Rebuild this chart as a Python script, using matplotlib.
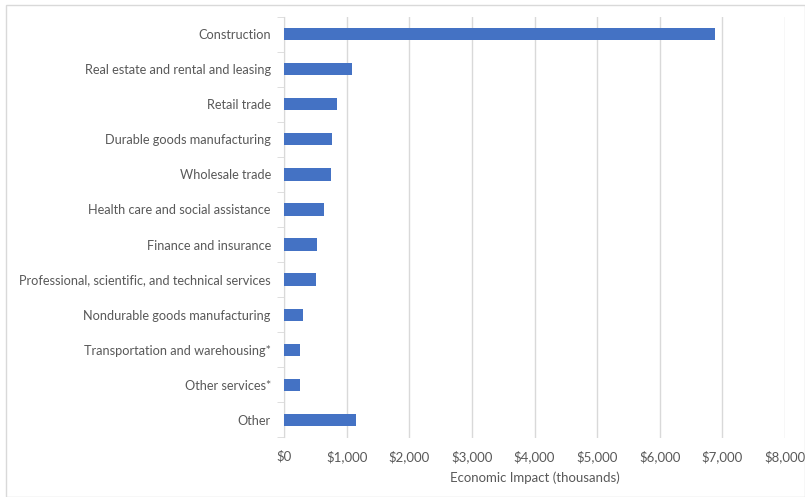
import matplotlib.pyplot as plt
from matplotlib.patches import Rectangle
from matplotlib.ticker import FuncFormatter, MultipleLocator

plt.rcParams['font.family'] = ['Lato', 'DejaVu Sans']

industries = [
    "Construction",
    "Real estate and rental and leasing",
    "Retail trade",
    "Durable goods manufacturing",
    "Wholesale trade",
    "Health care and social assistance",
    "Finance and insurance",
    "Professional, scientific, and technical services",
    "Nondurable goods manufacturing",
    "Transportation and warehousing*",
    "Other services*",
    "Other",
]
impact_thousands = [6890, 1090, 850, 770, 745, 638, 521, 510, 303, 260, 255, 1143]

bar_color = "#4472c4"
text_color = "#595959"
grid_color = "#d9d9d9"

fig = plt.figure(figsize=(8.05, 4.97), dpi=100)
ax = fig.add_axes([284 / 805, 1 - 437.5 / 497, (785 - 284) / 805, (437.5 - 16.5) / 497])

ypos = list(range(len(industries)))
ax.barh(ypos, impact_thousands, height=0.35, color=bar_color, zorder=3)

ax.set_xlim(0, 8000)
ax.set_ylim(len(industries) - 0.5, -0.5)
ax.xaxis.set_major_locator(MultipleLocator(1000))
ax.xaxis.set_major_formatter(FuncFormatter(lambda v, _: f"${v:,.0f}"))
ax.grid(axis="x", color=grid_color, linewidth=1, zorder=0)

ax.set_yticks(ypos)
ax.set_yticklabels(industries)
# short category separators on the left of the axis
ax.set_yticks([i + 0.5 for i in range(-1, len(industries))], minor=True)
ax.tick_params(axis="y", which="major", length=0, pad=9.5, labelsize=9.2, labelcolor=text_color)
ax.tick_params(axis="y", which="minor", length=5, color=grid_color)
ax.tick_params(axis="x", length=0, pad=9, labelsize=9.5, labelcolor=text_color)

for side in ("top", "right", "bottom"):
    ax.spines[side].set_visible(False)
ax.spines["left"].set_color(grid_color)

ax.set_xlabel("Economic Impact (thousands)", fontsize=9.5, color=text_color, labelpad=6.5)

fig.patches.append(Rectangle((5.5 / 805, 0.5 / 497), 799 / 805, 492 / 497,
                             transform=fig.transFigure, fill=False,
                             edgecolor="#d9d9d9", linewidth=1))

fig.savefig("out.png", dpi=100)
